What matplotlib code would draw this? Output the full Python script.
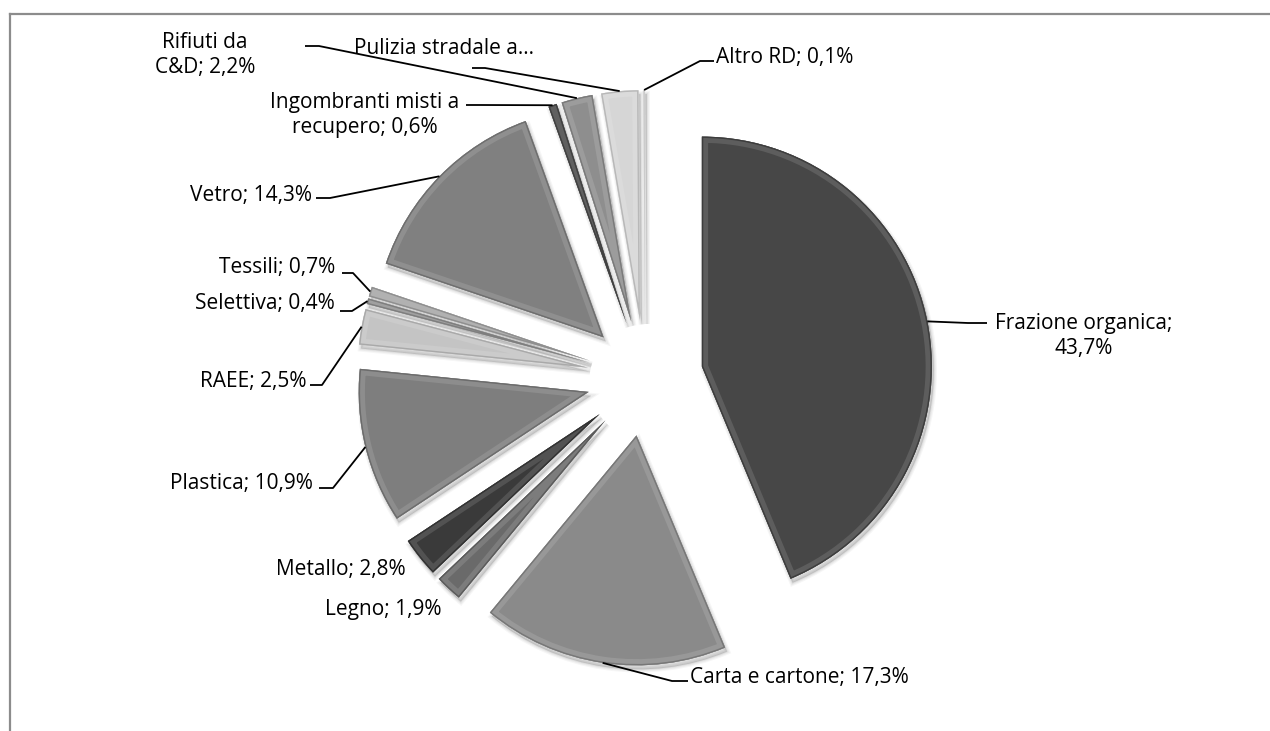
import matplotlib
matplotlib.use("Agg")
import matplotlib.pyplot as plt
import matplotlib.patches as mpatches
import numpy as np
from matplotlib.colors import to_rgb

# ---------------- data ----------------
categories = ["Frazione organica", "Carta e cartone", "Legno", "Metallo", "Plastica",
              "RAEE", "Selettiva", "Tessili", "Vetro", "Ingombranti misti a recupero",
              "Rifiuti da C&D", "Pulizia stradale a recupero", "Altro RD"]
values = [43.7, 17.3, 1.9, 2.8, 10.9, 2.5, 0.4, 0.7, 14.3, 0.6, 2.2, 2.6, 0.1]
label_texts = ["Frazione organica;\n43,7%", "Carta e cartone; 17,3%", "Legno; 1,9%",
               "Metallo; 2,8%", "Plastica; 10,9%", "RAEE; 2,5%", "Selettiva; 0,4%",
               "Tessili; 0,7%", "Vetro; 14,3%", "Ingombranti misti a\nrecupero; 0,6%",
               "Rifiuti da\nC&D; 2,2%", "Pulizia stradale a…", "Altro RD; 0,1%"]
colors = ["#474747", "#8a8a8a", "#6a6a6a", "#3a3a3a", "#7e7e7e", "#c4c4c4", "#939393",
          "#a6a6a6", "#808080", "#4a4a4a", "#8e8e8e", "#d6d6d6", "#e6e6e6"]

# ---------------- layout (pixel coords, y downward) ----------------
W, H = 1270, 731
# text position, horizontal alignment, leader elbow points (label side first)
label_layout = [
    ((1084, 336), "center", [(987, 323), (968, 323)]),
    ((690, 677), "left", [(688, 681), (672, 681)]),
    ((383, 610), "center", None),
    ((341, 570), "center", None),
    ((313, 484), "right", [(319, 488), (333, 488)]),
    ((306, 381), "right", [(310, 385), (322, 385)]),
    ((335, 303), "right", [(340, 311), (352, 311)]),
    ((335, 268), "right", [(342, 273), (353, 273)]),
    ((312, 195), "right", [(316, 198), (330, 198)]),
    ((365, 115), "center", [(466, 105), (480, 105)]),
    ((205, 55), "center", [(305, 46), (319, 46)]),
    ((444, 48), "center", [(472, 68), (485, 68)]),
    ((716, 58), "left", [(714, 61), (700, 61)]),
]

def fy(y):
    return H - y

def shade(c, f):
    r = np.array(to_rgb(c))
    if f >= 0:
        return tuple(r + (1 - r) * f)
    return tuple(r * (1 + f))

fig = plt.figure(figsize=(12.7, 7.31), dpi=100)
ax = fig.add_axes([0, 0, 1, 1])
R = 230
wedges, _ = ax.pie(values, colors=colors, startangle=90, counterclock=False,
                   radius=R, center=(645, fy(378)), explode=[58] * len(values),
                   wedgeprops=dict(linewidth=0), frame=True)
ax.set_xlim(0, W)
ax.set_ylim(0, H)
ax.set_aspect("equal")
ax.axis("off")

for w, c in zip(wedges, colors):
    cx, cy = w.center
    w.set_zorder(3)
    # soft shadow
    for k, a in enumerate([0.035, 0.045, 0.06]):
        sh = mpatches.Wedge((cx + 2, cy - 4), w.r, w.theta1, w.theta2,
                            facecolor="black", edgecolor="black", lw=4.5 - k * 1.6,
                            alpha=a, zorder=1)
        ax.add_patch(sh)
    # bevel: lighter inner band, darker rim
    hl = mpatches.Wedge((cx, cy), w.r, w.theta1, w.theta2, fill=False,
                        edgecolor=shade(c, 0.12), lw=9, zorder=4)
    ax.add_patch(hl)
    hl.set_clip_path(w)
    hl2 = mpatches.Wedge((cx, cy), w.r, w.theta1, w.theta2, fill=False,
                         edgecolor=shade(c, -0.14), lw=2.0, zorder=5)
    ax.add_patch(hl2)
    hl2.set_clip_path(w)

font = dict(family=["Open Sans", "DejaVu Sans"], size=15, color="black")
for w, txt, (pos, ha, elbow) in zip(wedges, label_texts, label_layout):
    cx, cy = w.center
    mid = np.deg2rad(0.5 * (w.theta1 + w.theta2))
    ax_, ay_ = cx + w.r * np.cos(mid), cy + w.r * np.sin(mid)
    ax.text(pos[0], fy(pos[1]), txt, ha=ha, va="center", multialignment="center",
            linespacing=1.2, zorder=10, **font)
    if elbow is not None:
        xs = [p[0] for p in elbow] + [ax_]
        ys = [fy(p[1]) for p in elbow] + [ay_]
        ax.plot(xs, ys, color="black", lw=1.3, zorder=9, solid_capstyle="butt")

# chart frame (partially cropped)
ax.plot([10, W], [fy(14), fy(14)], color="#8c8c8c", lw=1.6, zorder=0)
ax.plot([10, 10], [fy(14), 0], color="#8c8c8c", lw=1.6, zorder=0)

fig.savefig("out.png", dpi=100)
